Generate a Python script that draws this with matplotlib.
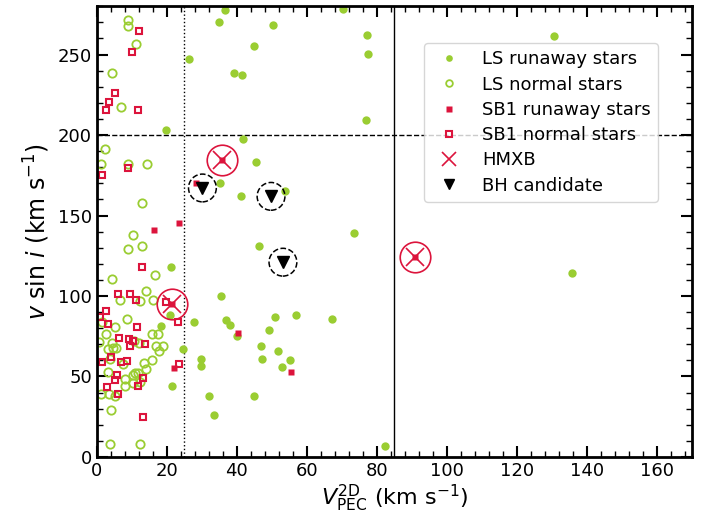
import matplotlib
matplotlib.use('Agg')
import matplotlib.pyplot as plt
from matplotlib.ticker import MultipleLocator

# LS runaway stars (filled green)
ls_run_x = [36.6, 35.0, 50.3, 70.3, 77.1, 44.9, 77.6, 26.4, 39.2, 41.6, 77.0, 41.8, 130.7, 135.9,
            82.4, 19.9, 45.4, 35.1, 41.1, 53.8, 73.5, 46.5, 35.6, 27.7, 50.8, 56.8, 67.1, 37.0,
            38.2, 49.1, 40.2, 24.7, 46.9, 51.9, 55.1, 47.2, 29.8, 29.8, 52.9, 32.1, 44.9, 33.5,
            20.9, 18.4, 21.6, 21.2]
ls_run_y = [277.7, 270.5, 268.4, 278.5, 262.4, 255.6, 250.4, 247.3, 238.4, 237.4, 209.3, 197.3, 261.4, 114.0,
            6.8, 203.2, 183.2, 170.2, 162.1, 165.2, 139.2, 131.1, 100.1, 84.0, 87.0, 87.9, 85.8, 85.0,
            81.9, 78.8, 75.1, 67.0, 68.9, 66.0, 60.0, 60.8, 60.8, 56.7, 55.8, 37.8, 37.8, 25.9,
            88.5, 81.3, 44.0, 118.1]

# LS normal stars (open green)
ls_norm_x = [8.8, 8.8, 11.1, 4.5, 6.9, 2.3, 1.3, 8.9, 14.3, 13.0, 10.4, 13.0, 8.8, 16.7, 4.5,
             14.2, 6.7, 12.3, 16.0, 8.7, 1.6, 5.1, 2.6, 15.8, 17.5, 0.8, 4.5, 10.7, 12.1, 18.8,
             17.0, 3.2, 4.7, 5.5, 17.7, 3.9, 13.5, 15.9, 14.2, 3.2, 8.0, 10.4, 11.0, 11.8, 8.2,
             10.4, 12.5, 1.3, 3.5, 5.1, 4.1, 3.9, 12.5, 7.5]
ls_norm_y = [271.7, 267.6, 256.4, 238.4, 217.3, 191.1, 182.2, 182.2, 182.2, 158.0, 137.7, 131.1, 129.0, 112.9, 110.4,
             102.8, 97.8, 96.8, 97.8, 85.8, 83.7, 80.8, 76.1, 76.3, 76.3, 71.2, 70.9, 72.0, 70.9, 68.9,
             69.1, 66.8, 67.4, 68.0, 66.0, 60.6, 58.1, 60.0, 54.6, 52.9, 48.6, 50.7, 51.9, 52.3, 44.0,
             46.1, 46.7, 38.9, 38.9, 37.8, 29.0, 8.1, 8.1, 57.5]

# SB1 runaway stars (filled red)
sb1_run_x = [16.4, 23.5, 28.3, 40.3, 55.5, 22.0, 21.5, 35.8, 90.9]
sb1_run_y = [141.2, 145.2, 170.2, 77.1, 52.9, 55.0, 95.3, 184.2, 124.1]

# SB1 normal stars (open red)
sb1_norm_x = [12.2, 10.1, 5.3, 3.4, 2.6, 11.7, 1.6, 8.8, 12.8, 6.1, 9.4, 11.3, 23.3, 2.8, 1.0,
              3.2, 11.4, 6.3, 9.2, 10.5, 13.9, 9.6, 4.2, 1.4, 6.9, 8.7, 23.5, 5.7, 5.3, 13.1,
              3.0, 11.8, 6.2, 13.2, 19.9]
sb1_norm_y = [264.5, 251.4, 226.4, 220.4, 215.5, 215.5, 175.4, 179.5, 118.1, 101.0, 101.0, 97.8, 84.0, 90.7, 87.0,
              82.4, 81.0, 74.0, 73.0, 72.0, 70.0, 68.9, 62.0, 58.8, 58.7, 59.7, 57.7, 51.0, 47.6, 48.8,
              43.7, 44.0, 39.0, 24.8, 96.0]

hmxb_x = [21.5, 35.8, 90.9]
hmxb_y = [95.3, 184.2, 124.1]

bh_x = [30.2, 49.8, 53.2]
bh_y = [167.1, 161.9, 121.0]

green = '#9acd32'
red = '#dc143c'

fig = plt.figure(figsize=(7.11, 5.19), dpi=100)
ax = fig.add_axes([0.136, 0.1195, 0.837, 0.8685])

ax.axvline(25, color='k', ls=':', lw=1)
ax.axvline(85, color='k', ls='-', lw=1)
ax.axhline(200, color='k', ls='--', lw=1)

ax.plot(ls_run_x, ls_run_y, 'o', color=green, ms=6, mec='none', label='LS runaway stars')
ax.plot(ls_norm_x, ls_norm_y, 'o', mfc='none', mec=green, ms=6, mew=1.3, label='LS normal stars')
ax.plot(sb1_run_x, sb1_run_y, 's', color=red, ms=5, mec='none', label='SB1 runaway stars')
ax.plot(sb1_norm_x, sb1_norm_y, 's', mfc='none', mec=red, ms=5, mew=1.5, label='SB1 normal stars')
ax.plot(hmxb_x, hmxb_y, 'x', color=red, ms=13, mew=1.2, label='HMXB', zorder=5)
ax.plot(hmxb_x, hmxb_y, 'o', mfc='none', mec=red, ms=22, mew=1.2, zorder=5)
ax.plot(bh_x, bh_y, 'v', color='k', ms=9, label='BH candidate', zorder=6)
ax.scatter(bh_x, bh_y, s=400, facecolors='none', edgecolors='k', linestyles='--', linewidths=1.1, zorder=6)

ax.set_xlim(0, 170)
ax.set_ylim(0, 280)
ax.xaxis.set_major_locator(MultipleLocator(20))
ax.xaxis.set_minor_locator(MultipleLocator(4))
ax.yaxis.set_major_locator(MultipleLocator(50))
ax.yaxis.set_minor_locator(MultipleLocator(10))
ax.tick_params(which='both', direction='in', top=True, right=True, labelsize=13)
ax.tick_params(which='major', length=8, width=1.5)
ax.tick_params(which='minor', length=4, width=1)
for s in ax.spines.values():
    s.set_linewidth(2)

ax.set_xlabel(r'$V_{\rm PEC}^{\rm 2D}$ (km s$^{-1}$)', fontsize=16, labelpad=2)
ax.set_ylabel(r'$v$ sin $i$ (km s$^{-1}$)', fontsize=17, labelpad=4)

ax.legend(loc='upper left', bbox_to_anchor=(0.55, 0.918), borderaxespad=0, fontsize=13,
          labelspacing=0.4, markerscale=0.8)

fig.savefig('out.png', dpi=100)
